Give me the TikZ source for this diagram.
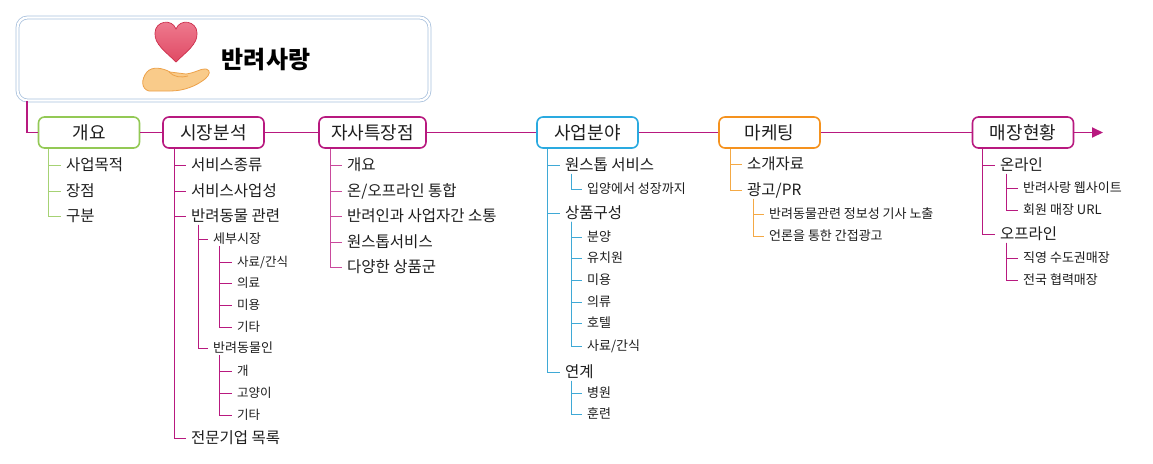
\documentclass[tikz,border=0pt]{standalone}
\usepackage{fontspec}
\setmainfont{Noto Sans CJK KR}
\usetikzlibrary{arrows.meta}
\definecolor{txt}{HTML}{1E1E1E}
\definecolor{cgreen}{HTML}{93C955}
\definecolor{cgreenl}{HTML}{A6D274}
\definecolor{cmag}{HTML}{B8197F}
\definecolor{cmagl}{HTML}{C94A9C}
\definecolor{cblue}{HTML}{2AAAE0}
\definecolor{cbluel}{HTML}{3FA9D6}
\definecolor{corange}{HTML}{F5921E}
\definecolor{corangel}{HTML}{F4A945}
\definecolor{ctitle}{HTML}{A9C1DD}
\definecolor{heartA}{HTML}{EF7E92}
\definecolor{heartB}{HTML}{E04A64}
\definecolor{heartL}{HTML}{CC2F4C}
\definecolor{handF}{HTML}{F9CB8A}
\definecolor{handL}{HTML}{EDA24A}
\begin{document}
\begin{tikzpicture}[x=1pt,y=-1pt,
  mainbox/.style={draw=#1, line width=1.6pt, rounded corners=6pt, fill=white,
    minimum height=31pt, minimum width=101pt, inner xsep=10pt, text=txt,
    text height=15pt, text depth=1.6pt,
    font=\fontsize{18}{18}\selectfont},
  itemA/.style={anchor=west, inner xsep=5pt, inner ysep=1pt, text=txt,
    text height=13.2pt, text depth=1.5pt, font=\fontsize{15.5}{15.5}\selectfont},
  itemB/.style={anchor=west, inner xsep=5pt, inner ysep=1pt, text=txt,
    text height=11pt, text depth=1.3pt, font=\fontsize{13}{13}\selectfont},
  itemC/.style={anchor=west, inner xsep=5pt, inner ysep=1pt, text=txt,
    text height=10.6pt, text depth=1.25pt, font=\fontsize{12.5}{12.5}\selectfont},
  br/.style={draw=#1, line width=1pt},
  trunk/.style={draw=cmag, line width=1.8pt}
]
\fill[white] (0,0) rectangle (1153,463);
\useasboundingbox (0,0) rectangle (1153,463);

% title box
\node[draw=ctitle, double=white, double distance=2.2pt, line width=0.8pt,
  rounded corners=10pt, minimum width=412pt, minimum height=83pt, inner sep=0pt]
  (title) at (223.5,59) {};
\node[font=\fontsize{24}{24}\selectfont\bfseries, text=black, inner sep=0pt]
  (ttl) at (266,60) {반려사랑};
% heart
\shade[top color=heartA, bottom color=heartB, draw=heartL, line width=0.7pt]
  (176,62) .. controls (166,52) and (154,44) .. (155,33)
  .. controls (155,21) and (172,18) .. (176,29)
  .. controls (180,18) and (197,21) .. (197,33)
  .. controls (198,44) and (186,52) .. (176,62) -- cycle;
% hand
\filldraw[fill=handF, draw=handL, line width=0.8pt]
  (149,91) .. controls (141,89) and (141,79) .. (147,72)
  .. controls (152,66) and (163,68) .. (170,72) -- (186,74)
  .. controls (195,73) and (202,68) .. (206,69)
  .. controls (211,70) and (210,75) .. (205,79)
  .. controls (196,86) and (184,91) .. (170,91) -- cycle;
\draw[handL, line width=0.8pt] (169,72) .. controls (174,77) and (181,78) .. (188,76);

% main boxes
\node[mainbox=cgreen] (g) at (89,132.5) {개요};
\node[mainbox=cmag] (m) at (213.5,132.5) {시장분석};
\node[mainbox=cmag, minimum width=107pt] (s) at (372.5,132.5) {자사특장점};
\node[mainbox=cblue] (b) at (587.5,132.5) {사업분야};
\node[mainbox=corange] (k) at (769.5,132.5) {마케팅};
\node[mainbox=cmag] (h) at (1023,132.5) {매장현황};
\coordinate (arrowend) at (1103,132.5);

% trunk
\draw[trunk] ([xshift=9.5pt]title.south west) |- (g.west);
\draw[trunk] (g.east) -- (m.west);
\draw[trunk] (m.east) -- (s.west);
\draw[trunk] (s.east) -- (b.west);
\draw[trunk] (b.east) -- (k.west);
\draw[trunk] (k.east) -- (h.west);
\draw[trunk, -{Triangle[length=11pt,width=10pt]}] (h.east) -- (arrowend);

% 개요
\node[itemA] (g1) at (61,165) {사업목적};
\node[itemA] (g2) at (61,191) {장점};
\node[itemA] (g3) at (61,216) {구분};
\foreach \c in {g1,g2,g3} \draw[br=cgreenl] ([xshift=11pt]g.south west) |- (\c.west);

% 시장분석
\node[itemA] (m1) at (186,165) {서비스종류};
\node[itemA] (m2) at (186,191) {서비스사업성};
\node[itemA] (m3) at (186,216) {반려동물 관련};
\node[itemA] (m4) at (186,438) {전문기업 목록};
\foreach \c in {m1,m2,m3,m4} \draw[br=cmag] ([xshift=12pt]m.south west) |- (\c.west);
\node[itemB] (m31) at (208,239) {세부시장};
\node[itemB] (m32) at (208,348) {반려동물인};
\foreach \c in {m31,m32} \draw[br=cmag] ([xshift=12pt]m3.south west) |- (\c.west);
\node[itemC] (m311) at (232,262) {사료/간식};
\node[itemC] (m312) at (232,283) {의료};
\node[itemC] (m313) at (232,305) {미용};
\node[itemC] (m314) at (232,327) {기타};
\foreach \c in {m311,m312,m313,m314} \draw[br=cmag] ([xshift=11pt]m31.south west) |- (\c.west);
\node[itemC] (m321) at (232,371) {개};
\node[itemC] (m322) at (232,393) {고양이};
\node[itemC] (m323) at (232,415) {기타};
\foreach \c in {m321,m322,m323} \draw[br=cmag] ([xshift=11pt]m32.south west) |- (\c.west);

% 자사특장점
\node[itemA] (s1) at (342,165) {개요};
\node[itemA] (s2) at (342,191) {온/오프라인 통합};
\node[itemA] (s3) at (342,216) {반려인과 사업자간 소통};
\node[itemA] (s4) at (342,242) {원스톱서비스};
\node[itemA] (s5) at (342,267) {다양한 상품군};
\foreach \c in {s1,s2,s3,s4,s5} \draw[br=cmagl] ([xshift=12pt]s.south west) |- (\c.west);

% 사업분야
\node[itemA] (b1) at (560,165) {원스톱 서비스};
\node[itemA] (b2) at (560,213) {상품구성};
\node[itemA] (b3) at (560,372) {연계};
\foreach \c in {b1,b2,b3} \draw[br=cbluel] ([xshift=11pt]b.south west) |- (\c.west);
\node[itemB] (b11) at (582,189) {입양에서 성장까지};
\draw[br=cbluel] ([xshift=11pt]b1.south west) |- (b11.west);
\node[itemB] (b21) at (582,237) {분양};
\node[itemB] (b22) at (582,258) {유치원};
\node[itemB] (b23) at (582,280) {미용};
\node[itemB] (b24) at (582,302) {의류};
\node[itemB] (b25) at (582,323) {호텔};
\node[itemB] (b26) at (582,346) {사료/간식};
\foreach \c in {b21,b22,b23,b24,b25,b26} \draw[br=cbluel] ([xshift=11pt]b2.south west) |- (\c.west);
\node[itemB] (b31) at (582,393) {병원};
\node[itemB] (b32) at (582,414) {훈련};
\foreach \c in {b31,b32} \draw[br=cbluel] ([xshift=11pt]b3.south west) |- (\c.west);

% 마케팅
\node[itemA] (k1) at (742,164) {소개자료};
\node[itemA] (k2) at (742,190) {광고/PR};
\foreach \c in {k1,k2} \draw[br=corangel] ([xshift=12pt]k.south west) |- (\c.west);
\node[itemB] (k21) at (764,214) {반려동물관련 정보성 기사 노출};
\node[itemB] (k22) at (764,236) {언론을 통한 간접광고};
\foreach \c in {k21,k22} \draw[br=corangel] ([xshift=11pt]k2.south west) |- (\c.west);

% 매장현황
\node[itemA] (h1) at (995,165) {온라인};
\node[itemA] (h2) at (995,234) {오프라인};
\foreach \c in {h1,h2} \draw[br=cmag] ([xshift=11pt]h.south west) |- (\c.west);
\node[itemB] (h11) at (1018,188) {반려사랑 웹사이트};
\node[itemB] (h12) at (1018,210) {회원 매장 URL};
\foreach \c in {h11,h12} \draw[br=cmag] ([xshift=11pt]h1.south west) |- (\c.west);
\node[itemB] (h21) at (1018,258) {직영 수도권매장};
\node[itemB] (h22) at (1018,280) {전국 협력매장};
\foreach \c in {h21,h22} \draw[br=cmag] ([xshift=11pt]h2.south west) |- (\c.west);
\end{tikzpicture}
\end{document}
